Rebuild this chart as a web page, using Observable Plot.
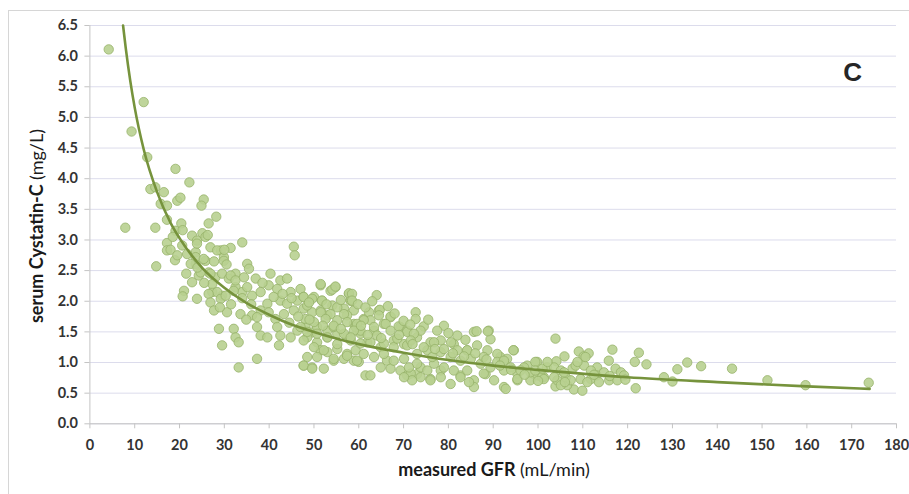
<!DOCTYPE html>
<html><head><meta charset="utf-8">
<script src="https://cdn.jsdelivr.net/npm/d3@7"></script>
<script src="https://cdn.jsdelivr.net/npm/@observablehq/plot@0.6"></script>
<style>
html,body{margin:0;padding:0;background:#fff;}
#wrap{position:relative;width:909px;height:494px;overflow:hidden;}
#frame{position:absolute;left:8px;top:10px;width:960px;height:540px;border-left:1.5px solid #d6d6d6;border-top:1.5px solid #d6d6d6;pointer-events:none;}
#chart{position:absolute;left:0;top:0;}
</style></head><body>
<div id="wrap"><div id="frame"></div><div id="chart"></div></div>
<script>
// measured GFR (mL/min)
const gfr = [
  4.2, 9.3, 12.0, 12.8, 7.9, 19.1, 22.2, 13.5, 14.6, 16.5,
  15.8, 17.2, 19.5, 20.2, 25.4, 24.9, 14.6, 17.2, 20.4, 19.1,
  20.7, 26.5, 28.2, 25.1, 22.8, 23.9, 25.8, 17.2, 17.2, 18.0,
  20.6, 19.0, 26.9, 29.2, 29.9, 31.4, 34.0, 23.6, 14.8, 23.6,
  25.8, 27.7, 24.3, 22.8, 26.5, 28.0, 29.5, 31.0, 32.5, 21.0,
  20.7, 23.9, 27.3, 29.5, 32.5, 34.0,
  26.3, 23.9, 28.4, 30.0, 45.5, 45.7, 21.7, 23.6, 25.4, 29.9,
  35.1, 35.5, 22.5, 24.7, 26.9, 31.4, 32.5, 34.4, 37.0, 40.3,
  42.5, 44.0, 27.3, 28.4, 26.5, 29.2, 30.3, 32.1, 35.1, 36.2,
  38.1, 39.9, 41.8, 44.8, 47.0, 51.5, 53.7, 54.8, 57.8, 58.2,
  26.9, 27.7, 30.6, 33.6, 36.2, 38.1, 39.6, 42.5, 41.0, 44.0,
  46.3, 47.7, 50.0, 51.8, 54.1, 56.7, 58.9, 34.9, 37.3, 39.9,
  41.4, 43.3, 45.5, 47.7, 49.6, 51.5, 53.0, 55.2, 57.4, 58.9,
  28.8, 32.1, 32.5, 33.2, 29.5, 37.3, 38.1, 39.6, 41.8, 42.5,
  42.2, 44.8, 46.3, 48.1, 49.6, 50.7, 48.5, 50.7, 53.0, 55.2,
  57.4, 59.7, 51.5, 50.7, 53.0, 55.2, 54.4, 56.7, 57.4, 58.9,
  47.7, 49.6, 52.2, 37.3, 33.2, 53.0, 54.4,
  51.5, 54.1, 54.8, 57.8, 58.2, 64.0, 47.7, 49.6, 51.8, 48.5,
  51.5, 53.7, 56.7, 55.2, 52.6, 50.0, 48.1, 54.4, 57.4, 59.3,
  61.1, 62.3, 64.5, 67.1, 69.3, 70.8, 72.7, 72.7, 74.5, 79.0,
  65.6, 63.4, 60.4, 56.7, 53.0, 50.7, 48.5, 47.0, 47.7, 50.0,
  48.5, 47.7, 49.6, 52.2, 55.2, 58.2, 61.9, 64.9, 67.8, 70.1,
  73.0, 76.0, 78.3, 81.2, 84.2, 85.7, 89.0, 89.4, 88.7, 91.6,
  94.6, 97.6, 99.8, 54.4, 57.4, 60.0, 61.5, 62.6, 66.3, 69.3,
  70.8, 73.0, 76.0, 78.3, 80.5, 82.7, 85.7, 88.3, 92.4, 95.4,
  99.1, 101.3,
  58.5, 58.5, 64.7, 64.5, 67.1, 68.9, 66.0, 62.6, 61.1, 59.6,
  60.4, 58.9, 63.4, 67.1, 70.8, 73.8, 72.3, 82.0, 86.3, 88.8,
  83.8, 80.6, 86.4, 94.5, 90.9, 93.1, 99.4, 102.0, 99.8, 98.3,
  100.9, 95.4, 96.9, 92.8, 95.4, 92.4, 90.2, 87.9, 85.7, 84.6,
  82.7, 78.3, 76.0, 73.8, 71.6, 71.9, 70.1, 64.9, 67.1, 59.6,
  59.3, 61.1, 63.4, 65.6, 67.8, 70.1, 73.0, 75.3, 78.3, 80.5,
  82.7, 85.0, 87.2, 89.4, 90.9, 76.8, 79.0, 81.2, 84.2, 73.8,
  75.3, 65.6, 67.8, 70.8, 62.6, 60.4, 58.2, 64.1, 68.6, 71.6,
  76.8, 79.0, 82.0, 84.2, 87.9, 92.4, 96.1, 98.3, 99.4, 93.9,
  76.4, 73.0, 71.2,
  103.9, 109.1, 111.3, 116.6, 122.5, 105.9, 110.2, 115.8, 121.6, 124.2,
  104.1, 133.3, 136.4, 131.1, 128.1, 130.0, 121.8, 108.0, 109.9, 106.5,
  103.9, 101.0, 101.3, 103.6, 105.1, 107.7, 108.4, 110.3, 113.2, 113.1,
  111.8, 109.5, 106.2, 104.3, 105.1, 107.3, 111.0, 113.6, 115.9, 117.7,
  117.3, 118.5, 119.2, 108.8, 110.6, 102.1, 103.6, 105.8, 111.8, 114.7,
  143.3, 151.2, 159.7, 173.8,
  43.0, 45.0, 48.9, 52.8, 56.0, 59.8, 61.5, 63.0, 66.5, 68.0,
  70.0, 71.5, 75.5, 77.5, 80.0, 44.5, 46.5, 49.0, 52.0, 56.0,
  60.5, 62.0, 65.0, 69.0, 72.0, 74.5, 77.0, 81.0, 83.5, 86.0,
  88.5, 91.5, 94.0, 97.0, 100.0, 106.0, 112.5, 116.0, 119.5, 36.0,
  34.0, 31.5, 29.0, 25.5, 24.0, 21.5, 19.5, 18.5, 30.5, 38.5
];
// serum Cystatin-C (mg/L)
const cystatinC = [
  6.11, 4.77, 5.25, 4.35, 3.20, 4.16, 3.94, 3.83, 3.86, 3.78,
  3.59, 3.56, 3.64, 3.69, 3.66, 3.56, 3.20, 3.33, 3.27, 3.15,
  3.16, 3.27, 3.38, 3.11, 3.07, 2.99, 3.05, 2.95, 2.83, 2.84,
  2.91, 2.67, 2.88, 2.83, 2.72, 2.87, 2.96, 2.80, 2.57, 2.61,
  2.66, 2.65, 2.42, 2.31, 2.47, 2.39, 2.45, 2.37, 2.45, 2.17,
  2.08, 2.04, 2.15, 2.09, 2.23, 2.15,
  3.08, 2.94, 2.83, 2.84, 2.89, 2.75, 2.77, 2.72, 2.69, 2.66,
  2.61, 2.53, 2.61, 2.47, 2.45, 2.42, 2.34, 2.39, 2.37, 2.45,
  2.34, 2.37, 2.28, 2.15, 2.12, 2.04, 2.09, 2.17, 2.23, 2.09,
  2.15, 2.26, 2.20, 2.15, 2.20, 2.26, 2.17, 2.23, 2.12, 2.01,
  1.98, 1.85, 1.82, 1.79, 1.77, 1.85, 1.96, 2.01, 2.07, 1.96,
  2.01, 2.07, 2.07, 2.01, 1.93, 1.88, 1.85, 1.70, 1.74, 1.82,
  1.71, 1.79, 1.85, 1.88, 1.82, 1.85, 1.77, 1.69, 1.77, 1.63,
  1.55, 1.55, 1.41, 1.33, 1.28, 1.58, 1.44, 1.41, 1.58, 1.44,
  1.28, 1.41, 1.52, 1.58, 1.49, 1.58, 1.41, 1.33, 1.41, 1.47,
  1.41, 1.52, 1.20, 1.09, 1.17, 1.22, 1.03, 1.06, 1.14, 1.03,
  0.95, 0.92, 0.90, 1.06, 0.92, 1.52, 1.58,
  2.28, 2.19, 2.24, 2.13, 2.01, 2.10, 2.07, 2.04, 2.01, 1.93,
  1.82, 1.79, 1.79, 1.90, 1.71, 1.66, 1.71, 1.60, 1.66, 1.58,
  1.71, 1.82, 1.85, 1.74, 1.58, 1.52, 1.82, 1.71, 1.59, 1.60,
  1.63, 1.52, 1.47, 1.47, 1.41, 1.47, 1.50, 1.58, 1.36, 1.25,
  1.09, 0.95, 0.90, 1.20, 1.30, 1.36, 1.33, 1.25, 1.36, 1.30,
  1.41, 1.33, 1.36, 1.30, 1.20, 1.50, 1.52, 1.38, 1.20, 1.09,
  1.20, 0.95, 1.01, 1.06, 1.11, 1.01, 0.79, 0.79, 1.03, 0.87,
  0.79, 0.81, 0.73, 0.87, 0.65, 0.79, 0.71, 0.81, 0.60, 0.71,
  0.81, 0.76,
  2.12, 2.01, 1.86, 1.77, 1.75, 1.59, 1.63, 1.69, 1.69, 1.63,
  1.52, 1.52, 1.58, 1.52, 1.50, 1.52, 1.47, 1.44, 1.51, 1.51,
  1.37, 1.33, 1.28, 1.20, 1.14, 1.06, 1.01, 0.92, 0.79, 0.71,
  0.76, 0.82, 0.92, 0.57, 0.73, 0.87, 0.71, 0.82, 0.60, 0.68,
  0.76, 0.76, 0.71, 0.76, 0.82, 0.71, 0.76, 0.92, 0.90, 1.03,
  1.20, 1.14, 1.09, 1.14, 1.03, 1.06, 1.14, 1.20, 1.17, 1.09,
  1.03, 1.06, 0.98, 0.92, 1.01, 0.98, 0.92, 0.87, 0.87, 0.92,
  0.87, 1.31, 1.25, 1.28, 1.33, 1.31, 1.41, 1.44, 1.39, 1.36,
  1.33, 1.22, 1.20, 1.20, 1.09, 1.03, 0.87, 0.84, 0.87, 0.92,
  1.09, 0.98, 0.92,
  1.39, 1.18, 1.15, 1.21, 1.16, 1.10, 1.10, 1.03, 1.01, 0.97,
  1.02, 1.00, 0.94, 0.89, 0.76, 0.69, 0.58, 0.56, 0.54, 0.63,
  0.61, 0.90, 0.73, 0.92, 0.87, 0.90, 0.95, 0.95, 0.92, 0.79,
  0.73, 0.73, 0.76, 0.71, 0.63, 0.71, 0.68, 0.68, 0.71, 0.71,
  0.90, 0.84, 0.79, 1.01, 1.09, 1.01, 0.76, 0.84, 0.87, 0.84,
  0.90, 0.71, 0.63, 0.67,
  2.12, 2.05, 1.98, 1.95, 2.02, 1.95, 1.90, 2.00, 1.92, 1.80,
  1.68, 1.62, 1.70, 1.52, 1.48, 1.65, 1.75, 1.70, 1.60, 1.55,
  1.60, 1.45, 1.40, 1.45, 1.30, 1.25, 1.22, 1.15, 1.10, 1.15,
  1.05, 0.95, 0.88, 0.80, 0.70, 0.68, 0.80, 0.78, 0.72, 1.95,
  2.05, 1.95, 1.90, 2.30, 2.55, 2.45, 2.75, 3.05, 2.60, 2.30
];
// trend line
const curveGfr = [7.4, 8, 9, 10, 12, 15, 18, 20, 25, 30, 35, 40, 45, 50, 60, 70, 80, 90, 100, 120, 140, 160, 174];
const curveCys = [6.5, 6.13, 5.60, 5.16, 4.48, 3.78, 3.28, 3.03, 2.55, 2.22, 1.97, 1.78, 1.62, 1.50, 1.30, 1.16, 1.04, 0.95, 0.88, 0.76, 0.68, 0.61, 0.57];
// ticks
const xTicks = [0, 10, 20, 30, 40, 50, 60, 70, 80, 90, 100, 110, 120, 130, 140, 150, 160, 170, 180];
const yTicks = [0, 0.5, 1.0, 1.5, 2.0, 2.5, 3.0, 3.5, 4.0, 4.5, 5.0, 5.5, 6.0, 6.5];
const panelLabel = ["C"];

const points = gfr.map((g, i) => ({gfr: g, cys: cystatinC[i]}));
const curve = curveGfr.map((g, i) => ({gfr: g, cys: curveCys[i]}));

const chart = Plot.plot({
  width: 909, height: 494,
  marginLeft: 89.4, marginRight: 13, marginTop: 25, marginBottom: 70.7,
  style: {fontFamily: "Lato, 'Open Sans', sans-serif", background: "transparent", overflow: "visible"},
  x: {domain: [0, 180]},
  y: {domain: [0, 6.5]},
  marks: [
    Plot.gridY(yTicks, {stroke: "#dcdcec", strokeOpacity: 1, strokeWidth: 1}),
    Plot.ruleY([0], {stroke: "#c4c4c4", strokeWidth: 1}),
    Plot.ruleX([0], {stroke: "#c4c4c4", strokeWidth: 1}),
    Plot.axisX(xTicks, {tickSize: 5, tickPadding: 11, stroke: "#c4c4c4", fill: "#333333", fontSize: 14.5, fontWeight: "bold", label: null}),
    Plot.axisY(yTicks, {tickSize: 5, tickPadding: 7, stroke: "#c4c4c4", fill: "#333333", fontSize: 14.5, fontWeight: "bold", tickFormat: d3.format(".1f"), label: null}),
    Plot.dot(points, {x: "gfr", y: "cys", r: 4.7, fill: "#b8d090", fillOpacity: 0.9, stroke: "#97b26a", strokeWidth: 0.8}),
    Plot.line(curve, {x: "gfr", y: "cys", curve: "monotone-x", stroke: "#76933c", strokeWidth: 2.6}),
    Plot.text(panelLabel, {x: 170.2, y: 5.73, text: d => d, fontSize: 26, fontWeight: "bold", fill: "#262626", fontFamily: "'Liberation Sans', Arial, sans-serif"})
  ]
});
document.getElementById("chart").appendChild(chart);

const svg = d3.select(chart);
const yt = svg.append("text")
  .attr("transform", "translate(38,226) rotate(-90)")
  .attr("text-anchor", "middle")
  .attr("dominant-baseline", "middle")
  .attr("font-size", 18)
  .attr("fill", "#1a1a1a");
yt.append("tspan").attr("font-weight", "bold").text("serum Cystatin-C ");
yt.append("tspan").attr("font-weight", "normal").text("(mg/L)");

const xt = svg.append("text")
  .attr("x", 494).attr("y", 476)
  .attr("text-anchor", "middle")
  .attr("font-size", 18)
  .attr("fill", "#1a1a1a");
xt.append("tspan").attr("font-weight", "bold").text("measured GFR ");
xt.append("tspan").attr("font-weight", "normal").text("(mL/min)");
</script>
</body></html>
